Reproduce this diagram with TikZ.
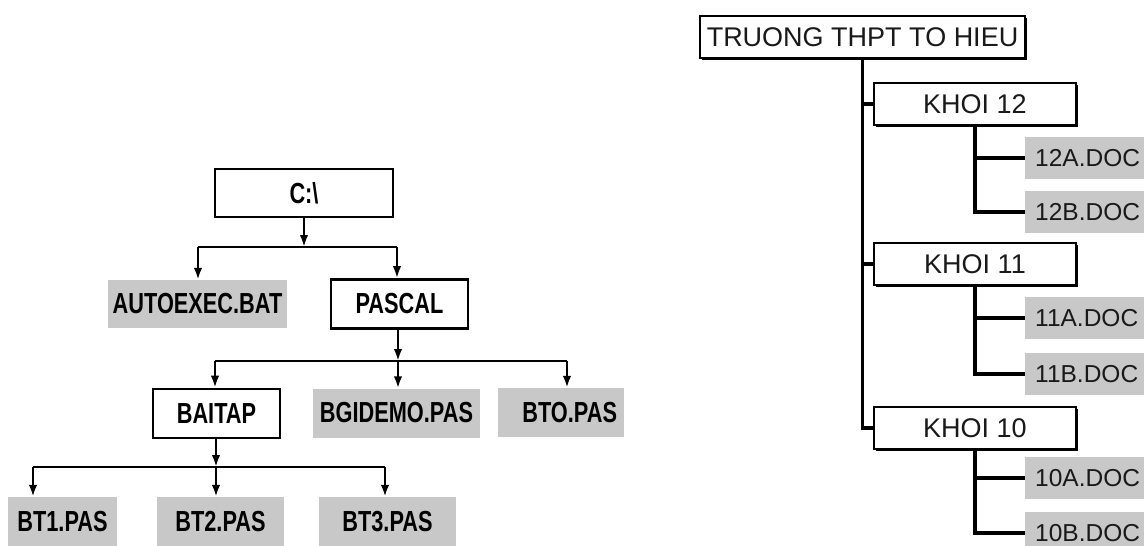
\documentclass[tikz,border=0pt]{standalone}
\usepackage{fontspec}
\setmainfont{Liberation Sans}
\newfontfamily\leftfont[FakeStretch=0.75]{Liberation Sans Bold}
\usetikzlibrary{arrows.meta,shadows}
\definecolor{boxgray}{RGB}{200,200,200}
\definecolor{ink}{RGB}{25,25,25}
\tikzset{
  lfont/.style={font=\leftfont\fontsize{29}{32}\selectfont},
  lbox/.style={draw=black, line width=2.6pt, fill=white, inner sep=0pt, lfont,
    general shadow={fill=black, shadow xshift=1pt, shadow yshift=-1pt}},
  lgray/.style={fill=boxgray, inner sep=0pt, lfont},
  lline/.style={line width=2.6pt},
  larr/.style={line width=2.6pt, -{Latex[length=12pt,width=8.5pt]}},
  rbox/.style={draw=black, line width=2.6pt, fill=white, inner sep=0pt,
    minimum width=202pt, minimum height=42pt, text=ink,
    font=\fontsize{27}{30}\selectfont,
    general shadow={fill=black, shadow xshift=2pt, shadow yshift=-2pt}},
  rgray/.style={fill=boxgray, anchor=west, minimum height=42pt, inner xsep=10pt,
    inner ysep=0pt, text width=105pt, align=left, text=ink,
    font=\fontsize{24.5}{28}\selectfont},
  rline/.style={line width=3.4pt}
}
\begin{document}
\begin{tikzpicture}[x=1pt,y=-1pt]
\useasboundingbox (0,0) rectangle (1144,546);
% ---------- left tree ----------
\node[lbox, minimum width=178pt, minimum height=48pt] (c) at (304,193) {C:\textbackslash};
\node[lgray, minimum width=179pt, minimum height=48pt] (auto) at (197.5,304) {AUTOEXEC.BAT};
\node[lbox, minimum width=137pt, minimum height=49pt] (pascal) at (399.5,304) {PASCAL};
\node[lbox, minimum width=127pt, minimum height=49pt] (baitap) at (216.5,413.5) {BAITAP};
\node[lgray, minimum width=167pt, minimum height=49pt] (bgi) at (396.5,413) {BGIDEMO.PAS};
\node[lgray, minimum width=126pt, minimum height=49pt, inner xsep=7pt, text width=112pt, align=right] (bto) at (561,412.5) {BTO.PAS};
\node[lgray, minimum width=109pt, minimum height=49pt] (bt1) at (62.5,521.5) {BT1.PAS};
\node[lgray, minimum width=127pt, minimum height=49pt] (bt2) at (220.5,521.5) {BT2.PAS};
\node[lgray, minimum width=137pt, minimum height=49pt] (bt3) at (387.5,521.5) {BT3.PAS};

\coordinate (j0a) at (198,247);
\coordinate (j0b) at (397,247);
\draw[larr] (c.south) -- (c.south |- j0a);
\draw[lline] (j0a) -- (j0b);
\draw[larr] (j0a) -- (j0a |- auto.north);
\draw[larr] (j0b) -- (j0b |- pascal.north);

\coordinate (j1a) at (215,361);
\coordinate (j1b) at (398,361);
\coordinate (j1c) at (567,361);
\draw[larr] (pascal.south -| j1b) -- (j1b);
\draw[lline] (j1a) -- (j1c);
\draw[larr] (j1a) -- (j1a |- baitap.north);
\draw[larr] (j1b) -- (j1b |- bgi.north);
\draw[larr] (j1c) -- (j1c |- bto.north);

\coordinate (j2a) at (33,467);
\coordinate (j2b) at (216,467);
\coordinate (j2c) at (385,467);
\draw[larr] (baitap.south -| j2b) -- (j2b);
\draw[lline] (j2a) -- (j2c);
\draw[larr] (j2a) -- (j2a |- bt1.north);
\draw[larr] (j2b) -- (j2b |- bt2.north);
\draw[larr] (j2c) -- (j2c |- bt3.north);

% ---------- right tree ----------
\node[rbox, minimum width=325pt] (truong) at (862.5,37) {TRUONG THPT TO HIEU};
\node[rbox] (k12) at (975,104) {KHOI 12};
\node[rbox] (k11) at (975,264) {KHOI 11};
\node[rbox] (k10) at (975,428) {KHOI 10};
\node[rgray] (a12) at (1025,158) {12A.DOC};
\node[rgray] (b12) at (1025,212) {12B.DOC};
\node[rgray] (a11) at (1025,318) {11A.DOC};
\node[rgray] (b11) at (1025,374) {11B.DOC};
\node[rgray] (a10) at (1025,478) {10A.DOC};
\node[rgray] (b10) at (1025,533) {10B.DOC};

\draw[rline] (truong.south) |- (k10.west);
\draw[rline] (truong.south |- k12.west) -- (k12.west);
\draw[rline] (truong.south |- k11.west) -- (k11.west);
\draw[rline] (k12.south) |- (b12.west);
\draw[rline] (k12.south |- a12.west) -- (a12.west);
\draw[rline] (k11.south) |- (b11.west);
\draw[rline] (k11.south |- a11.west) -- (a11.west);
\draw[rline] (k10.south) |- (b10.west);
\draw[rline] (k10.south |- a10.west) -- (a10.west);
\end{tikzpicture}
\end{document}
